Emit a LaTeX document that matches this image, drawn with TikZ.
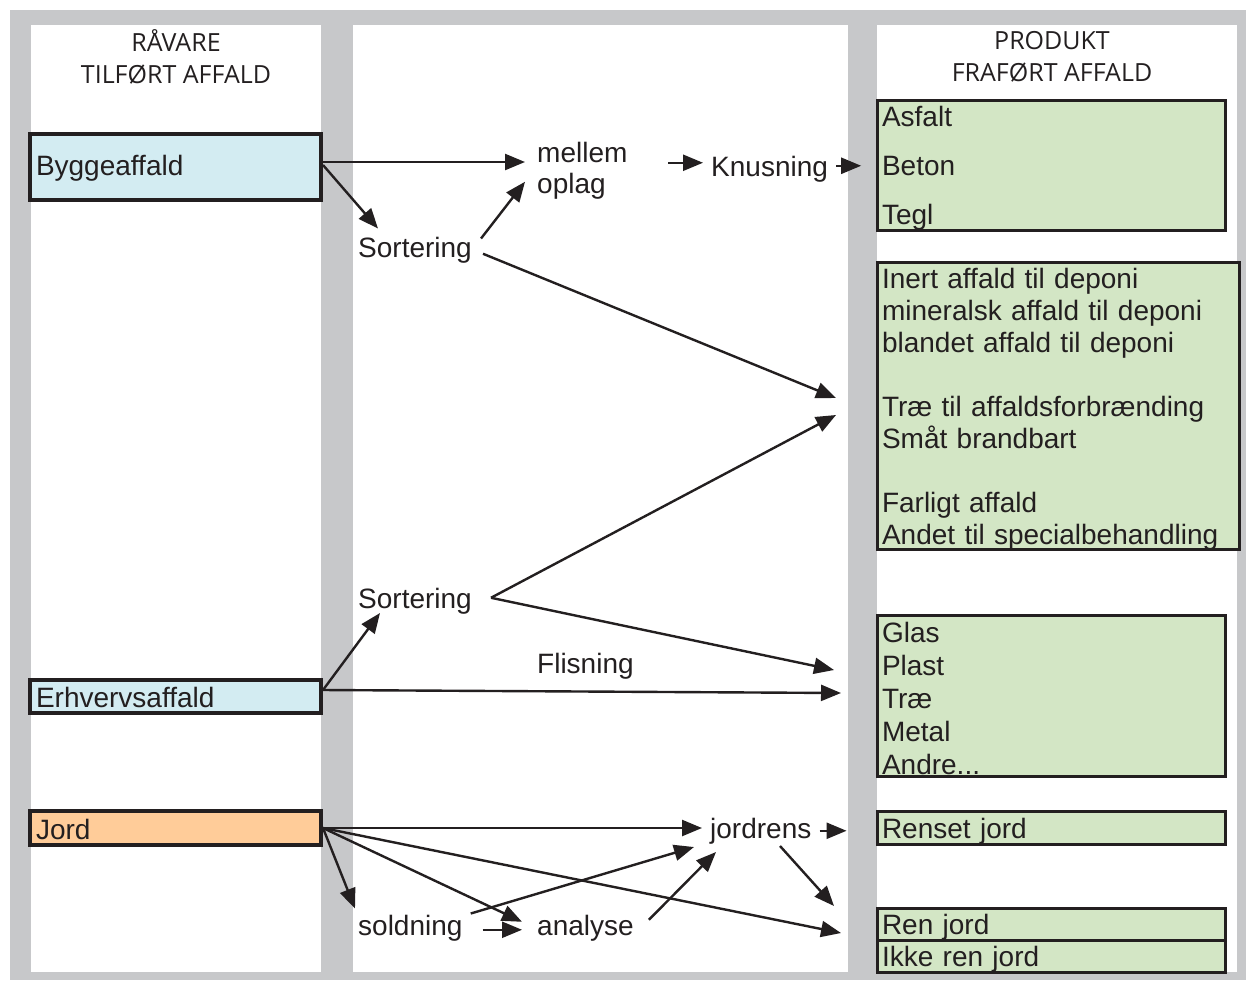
\documentclass[tikz,border=0pt]{standalone}
\usepackage{fontspec}
\setmainfont{Liberation Sans}
\newfontfamily\headfont{Open Sans}
\usetikzlibrary{arrows.meta}

\definecolor{bggrey}{HTML}{C7C8CA}
\definecolor{inblue}{HTML}{D3ECF2}
\definecolor{inorange}{HTML}{FFCC99}
\definecolor{outgreen}{HTML}{D3E6C5}
\definecolor{ink}{HTML}{231F20}

\tikzset{
  txt/.style={inner sep=8pt, text=ink, font=\fontsize{28}{31}\selectfont},
  head/.style={align=center, text=ink, font=\headfont\fontsize{25}{32}\selectfont},
  inbox/.style={draw=ink, line width=4pt, inner xsep=6pt, inner ysep=0pt,
    text width=279pt, align=left, text=ink, font=\fontsize{28}{32}\selectfont,
    execute at begin node={\rule{0pt}{23pt}}},
  outbox/.style={draw=ink, line width=3pt, fill=outgreen, inner xsep=5pt, inner ysep=0pt,
    align=left, text=ink, font=\fontsize{28}{32}\selectfont,
    execute at begin node={\rule{0pt}{26pt}}},
  arr/.style={-{Triangle[length=20pt,width=16pt]}, line width=2.4pt, draw=ink}
}

\begin{document}
\begin{tikzpicture}[x=1pt,y=-1pt]
    \useasboundingbox (0,0) rectangle (1246,980);

    % Columns
    \fill[bggrey] (10,10) rectangle (1246,980);
    \fill[white] (31,25) rectangle (321,972);
    \fill[white] (353,25) rectangle (848,972);
    \fill[white] (877,25) rectangle (1237,972);

    % Headings
    \node[head] (raavare) at (176,57) {RÅVARE\\TILFØRT AFFALD};
    \node[head] (produkt) at (1052,57) {PRODUKT\\FRAFØRT AFFALD};

    % Raw material
    \node[inbox, fill=inblue, minimum height=66pt] (bygge) at (175.5,167) {Byggeaffald};
    \node[inbox, fill=inblue, minimum height=33pt] (erhverv) at (175.5,696.5) {Erhvervsaffald};
    \node[inbox, fill=inorange, minimum height=34pt] (jord) at (175.5,828) {Jord};

    % Products
    \node[outbox, text width=338pt, minimum height=130pt] (knust) at (1051,165)
        {Asfalt\\[17pt]Beton\\[17pt]Tegl};
    \node[outbox, text width=352pt, minimum height=286pt] (deponi) at (1058,406)
        {Inert affald til deponi\\mineralsk affald til deponi\\blandet affald til deponi\\[32pt]%
         Træ til affaldsforbrænding\\Småt brandbart\\[32pt]Farligt affald\\Andet til specialbehandling};
    \node[outbox, text width=338pt, minimum height=161pt, font=\fontsize{28}{33}\selectfont] (genbrug) at (1051,695.5)
        {Glas\\Plast\\Træ\\Metal\\Andre...};
    \node[outbox, text width=338pt, minimum height=33pt] (renset) at (1051,828) {Renset jord};
    \node[outbox, text width=338pt, minimum height=32pt] (ren) at (1051,924) {Ren jord};
    \node[outbox, text width=338pt, minimum height=32pt] (ikkeren) at (1051,956) {Ikke ren jord};

    % Treatment steps
    \node[txt, anchor=base west] (sort1) at (350,257) {Sortering};
    \node[txt, anchor=west, align=left] (mellem) at (529,171) {mellem\\oplag};
    \node[txt, anchor=base west] (knus) at (703,176) {Knusning};
    \node[txt, anchor=base west] (sort2) at (350,608) {Sortering};
    \node[txt, anchor=base west] (flis) at (529,673) {Flisning};
    \node[txt, anchor=base west] (jordrens) at (702,838) {jordrens};
    \node[txt, anchor=base west] (sold) at (350,935) {soldning};
    \node[txt, anchor=base west] (analyse) at (529,935) {analyse};

    % Arrow ends at the product column
    \coordinate (d1) at (836,398);
    \coordinate (d2) at (836,415);
    \coordinate (g1) at (834,670);
    \coordinate (g2) at (841,693);
    \coordinate (r1) at (834,906);
    \coordinate (r2) at (841,933);

    % Byggeaffald
    \draw[arr] ([yshift=5pt]bygge.east) -- ([xshift=-4pt,yshift=5pt]bygge.east -| mellem.west);
    \draw[arr] ([yshift=2pt]bygge.east) -- ([xshift=28pt]sort1.north west);
    \draw[arr] ([xshift=1pt,yshift=-10pt]sort1.north east) -- ([xshift=-4pt,yshift=26pt]mellem.south west);
    \draw[arr] ([xshift=-35pt,yshift=6pt]knus.west) -- ([yshift=6pt]knus.west);
    \draw[arr] ([yshift=3pt]knus.east) -- ([xshift=25pt,yshift=3pt]knus.east);
    \draw[arr] ([xshift=3pt,yshift=-4pt]sort1.east) -- (d1);

    % Erhvervsaffald
    \draw[arr] ([yshift=6.5pt]erhverv.east) -- ([xshift=30pt,yshift=9pt]sort2.south west);
    \draw[arr] ([yshift=6.5pt]erhverv.east) -- (g2);
    \draw[arr] ([xshift=11pt,yshift=3pt]sort2.east) -- (d2);
    \draw[arr] ([xshift=11pt,yshift=3pt]sort2.east) -- (g1);

    % Jord
    \draw[arr] (jord.east) -- (jord.east -| jordrens.west);
    \draw[arr] (jordrens.east) -- ([xshift=27pt]jordrens.east);
    \draw[arr] (jord.east) -- ([xshift=5pt,yshift=-2pt]sold.north west);
    \draw[arr] (jord.east) -- ([xshift=-7pt,yshift=6pt]analyse.west);
    \draw[arr] (jord.east) -- (r2);
    \draw[arr] ([yshift=-7pt]sold.north east) -- ([xshift=-8pt,yshift=5pt]jordrens.south west);
    \draw[arr] ([xshift=12pt,yshift=-2pt]sold.east) -- ([xshift=-7pt,yshift=-2pt]analyse.west);
    \draw[arr] ([xshift=7pt,yshift=8pt]analyse.east) -- ([xshift=14pt]jordrens.south west);
    \draw[arr] ([xshift=78pt,yshift=6pt]jordrens.south west) -- (r1);
\end{tikzpicture}
\end{document}
